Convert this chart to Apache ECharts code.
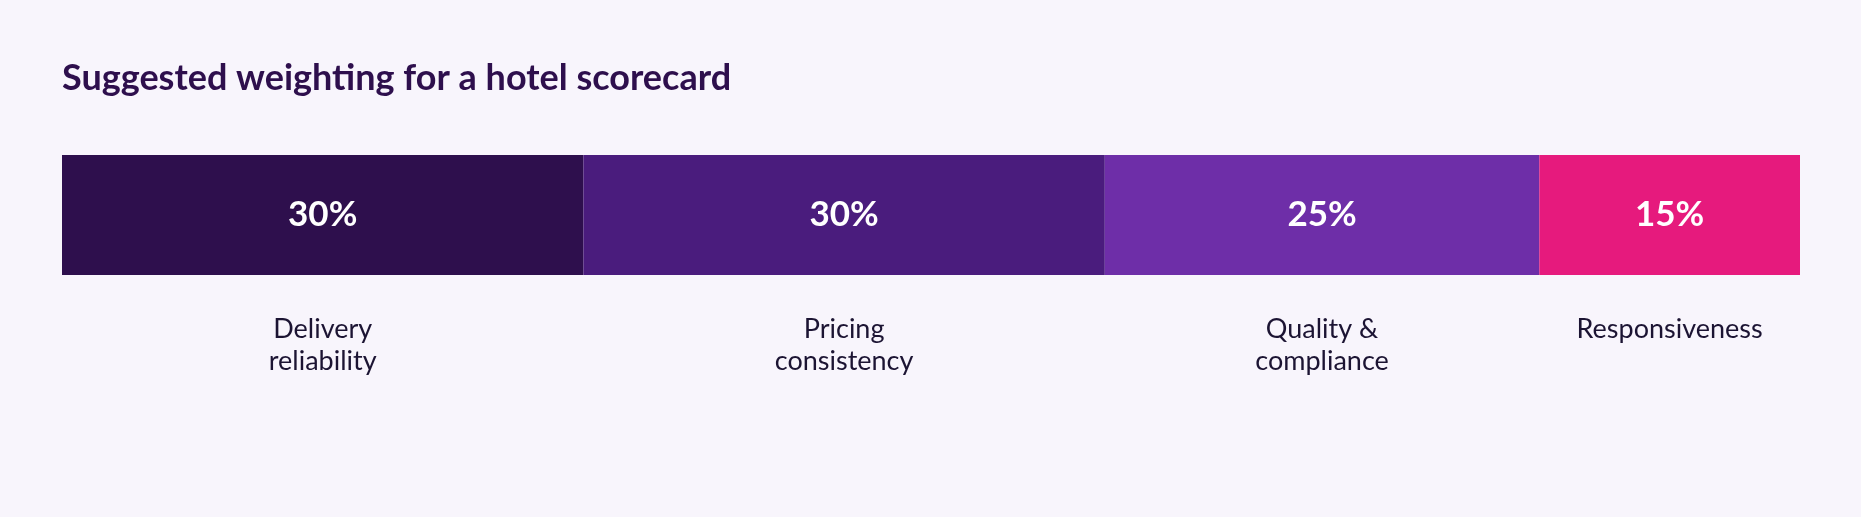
<!DOCTYPE html>
<html>
<head>
<meta charset="utf-8">
<title>Suggested weighting for a hotel scorecard</title>
<script src="https://cdn.jsdelivr.net/npm/echarts@6/dist/echarts.min.js"></script>
<style>
    html, body { margin: 0; padding: 0; background: #f8f5fc; }
    #chart { width: 1861px; height: 517px; }
</style>
</head>
<body>
<div id="chart"></div>
<script>
// 评分卡权重
var categories = ['Delivery\nreliability', 'Pricing\nconsistency', 'Quality &\ncompliance', 'Responsiveness'];
var weights = [30, 30, 25, 15];
var colors = ['#2e0f4d', '#4a1c7d', '#6e2ea8', '#e61a7d'];

var myChart = echarts.init(document.getElementById('chart'));

var series = [];
for (let i = 0; i < categories.length; i++) {
    // 彩色色块 + 百分比
    series.push({
        name: categories[i],
        type: 'bar',
        stack: 'weights',
        barWidth: 120,
        barGap: '-100%',
        data: [weights[i]],
        itemStyle: { color: colors[i] },
        label: {
            show: true,
            position: 'inside',
            formatter: weights[i] + '%',
            color: '#ffffff',
            fontFamily: 'Lato',
            fontWeight: 'bold',
            fontSize: 35
        },
        silent: true
    });
}
for (let i = 0; i < categories.length; i++) {
    // 透明色块，只用来放下方的名称
    series.push({
        name: categories[i] + ' label',
        type: 'bar',
        stack: 'names',
        barWidth: 120,
        barGap: '-100%',
        data: [weights[i]],
        itemStyle: { color: 'rgba(0,0,0,0)' },
        label: {
            show: true,
            position: 'bottom',
            distance: 38,
            formatter: categories[i],
            color: '#1c1433',
            fontFamily: 'Lato',
            fontSize: 27,
            lineHeight: 32,
            align: 'center'
        },
        silent: true
    });
}

var option = {
    backgroundColor: '#f8f5fc',
    animation: false,
    title: {
        text: 'Suggested weighting for a hotel scorecard',
        left: 62,
        top: 60,
        padding: 0,
        textStyle: {
            color: '#2e0f4d',
            fontFamily: 'Lato',
            fontWeight: 'bold',
            fontSize: 36
        }
    },
    grid: {
        left: 62,
        right: 61,
        top: 155,
        height: 120,
        containLabel: false
    },
    xAxis: {
        type: 'value',
        min: 0,
        max: 100,
        show: false
    },
    yAxis: {
        type: 'category',
        data: ['hotel'],
        show: false
    },
    series: series
};
myChart.setOption(option);
</script>
</body>
</html>
